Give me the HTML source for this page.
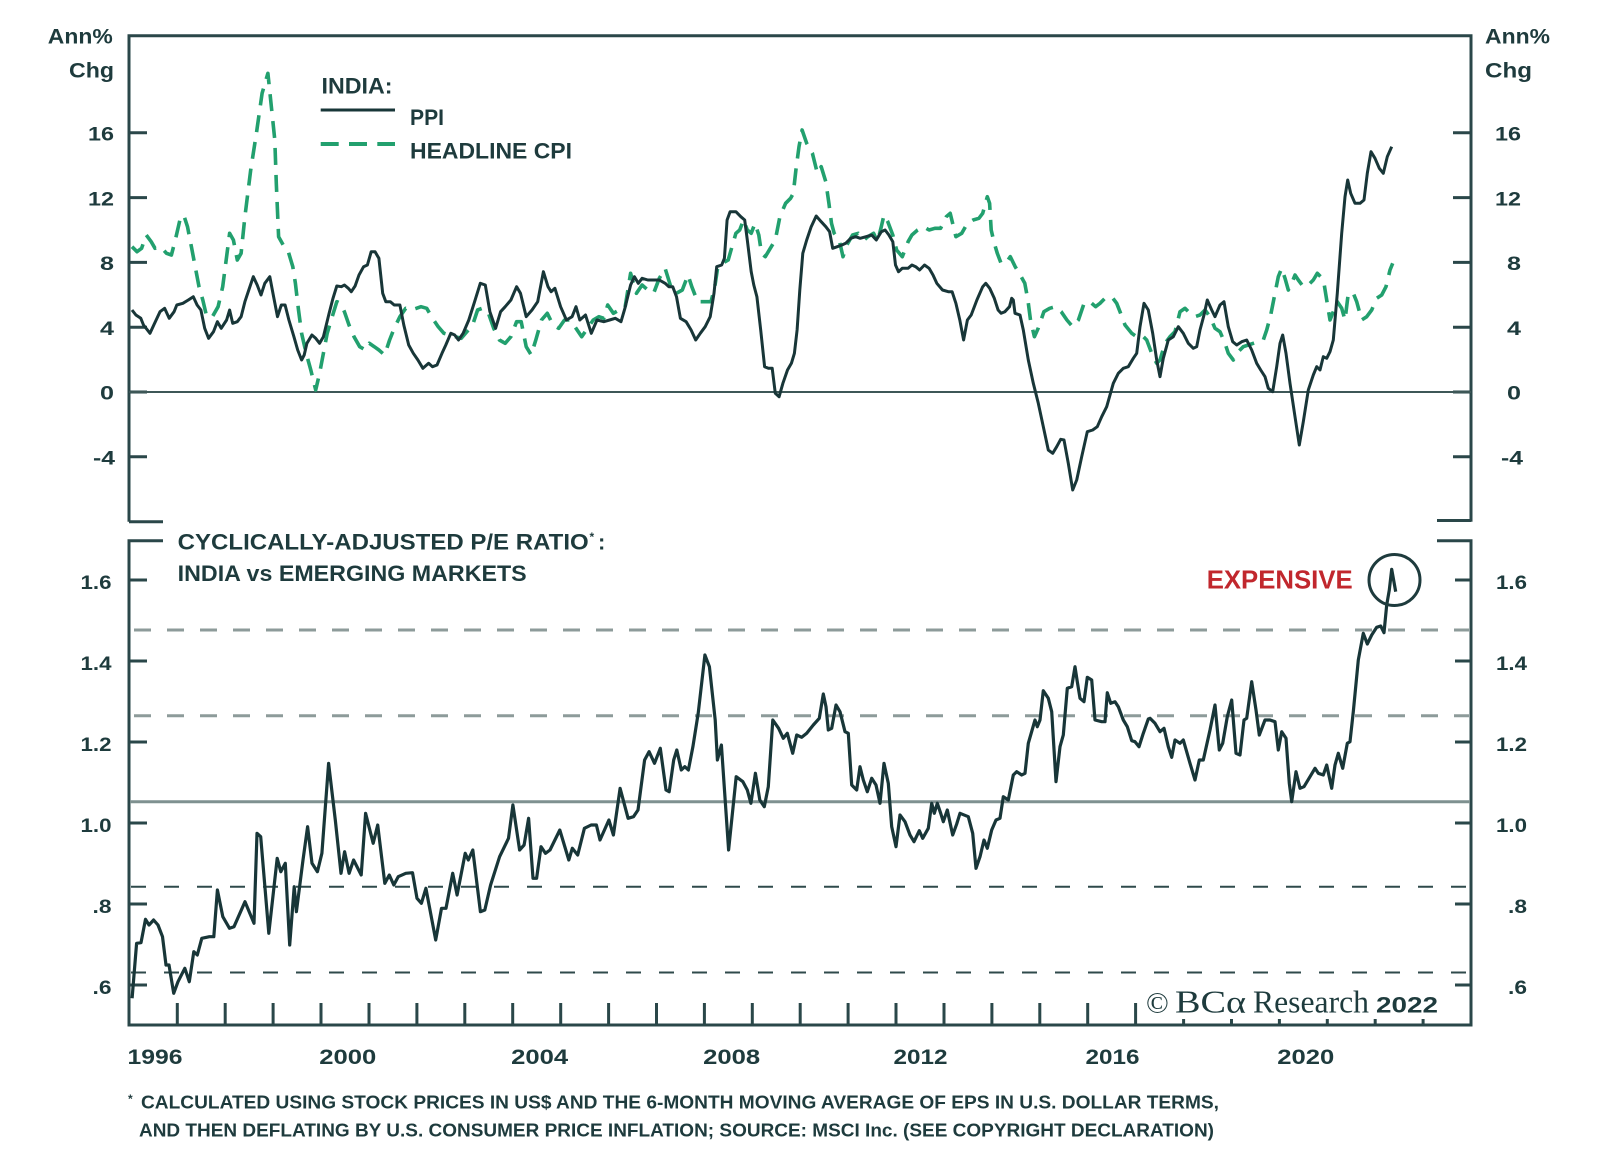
<!DOCTYPE html>
<html>
<head>
<meta charset="utf-8">
<style>
html,body{margin:0;padding:0;background:#fff;}
svg{display:block;}
text{font-family:"Liberation Sans",sans-serif;fill:#1e3b3d;}
.b{font-weight:bold;}
</style>
</head>
<body>
<svg width="1600" height="1174" viewBox="0 0 1600 1174" xmlns="http://www.w3.org/2000/svg">
<rect x="0" y="0" width="1600" height="1174" fill="#fff"/>

<!-- ===== TOP PANEL FRAME ===== -->
<g stroke="#2a4749" stroke-width="3" fill="none">
  <path d="M129,521.7 L129,35.7 L1471,35.7 L1471,521.7"/>
  <path d="M129,521.7 L163,521.7"/>
  <path d="M1437,520.5 L1471,520.5"/>
  <path d="M129,132.8H147M129,197.6H147M129,262.4H147M129,327.2H147M129,392H147M129,456.8H147"/>
  <path d="M1453,132.8H1471M1453,197.6H1471M1453,262.4H1471M1453,327.2H1471M1453,392H1471M1453,456.8H1471"/>
</g>
<line x1="129" y1="392" x2="1471" y2="392" stroke="#3d5757" stroke-width="2"/>

<!-- ===== LOWER PANEL FRAME ===== -->
<g stroke="#2a4749" stroke-width="3" fill="none">
  <path d="M163,540.7 L129,540.7 L129,1025 L1471,1025 L1471,540.7 L1437,540.7"/>
  <path d="M129,580H147M129,661H147M129,742H147M129,823H147M129,904H147M129,985H147"/>
  <path d="M1455,580H1471M1455,661H1471M1455,742H1471M1455,823H1471M1455,904H1471M1455,985H1471"/>
  <path d="M177.3,1003V1025M225.2,1003V1025M273.1,1003V1025M321,1003V1025M369,1003V1025M416.9,1003V1025M464.8,1003V1025M512.7,1003V1025M560.7,1003V1025M608.6,1003V1025M656.5,1003V1025M704.4,1003V1025M752.3,1003V1025M800.2,1003V1025M848.1,1003V1025M896,1003V1025M944,1003V1025M991.9,1003V1025M1039.8,1003V1025M1087.7,1003V1025M1135.6,1003V1025"/>
  <path d="M1183.6,1019V1025M1231.5,1019V1025M1279.4,1019V1025M1327.3,1019V1025M1375.2,1019V1025M1423.1,1019V1025"/>
</g>

<!-- reference lines lower panel -->
<line x1="134" y1="630" x2="1469" y2="630" stroke="#8d9b9a" stroke-width="3" stroke-dasharray="17 16"/>
<line x1="134" y1="715.7" x2="1469" y2="715.7" stroke="#8d9b9a" stroke-width="3" stroke-dasharray="17 16"/>
<line x1="130" y1="801.7" x2="1470" y2="801.7" stroke="#7f9190" stroke-width="3"/>
<line x1="131" y1="886.7" x2="1469" y2="886.7" stroke="#2f4a4b" stroke-width="2" stroke-dasharray="15 18"/>
<line x1="131" y1="972.5" x2="1469" y2="972.5" stroke="#2f4a4b" stroke-width="2" stroke-dasharray="15 18"/>

<!-- ===== SERIES: CPI (dashed green) ===== -->
<polyline fill="none" stroke="#22a06e" stroke-width="3.6" stroke-dasharray="17 10" stroke-linejoin="round" points="132,246.7 137,251.7 141.6,248.3 146.2,235 151.2,241.7 155,248.3 160.7,246.7 166.5,253.3 171.4,255 175.3,240 179.9,220 183.7,215 187.5,226.7 191.4,246.7 195.2,266.7 199,286.7 202.8,300 206.7,316.7 212.4,316.7 218.1,306.7 222.7,286.7 226.6,256.7 229.6,233.3 233.4,240 237.3,260 241.1,253.3 244.9,216.7 250.7,170 256.4,133.3 262.1,93.3 267.9,73.3 271.7,110 274.8,140 276.3,183.3 278.6,236.7 283.2,245 287.8,250 292.8,266.7 295.4,283.3 298.5,310 301.6,333.3 306.2,353.3 310.8,370 315.7,390 319.6,373.3 323.4,353.3 327.2,333.3 332.2,316.7 336.8,301.7 340.6,303.3 344.4,311.7 349,325 354,336.7 359.7,346.7 365.5,350 369.3,343.3 374.3,346.7 378.9,350 384.6,355 389.6,340 394.2,328.3 399.9,316.7 405.7,308.3 411.4,310 416.4,308.3 421,306.7 426.7,308.3 432.5,318.3 438.2,326.7 443.9,333.3 449.7,335 455.4,336.7 461.2,338.3 466.9,331.7 472.6,325 477.6,310 482.2,308.3 487.9,311.7 493.7,328.3 499.4,340 505.2,343.3 510.9,336.7 516.6,321.7 521.2,321.7 526.2,346.7 531.2,355 535.8,340 541.5,320 547.3,313.3 553,325 558.7,328.3 564.5,320 570.2,320 576,328.3 581.7,336.7 587.5,328.3 593.2,320 598.9,316.7 603.8,318.3 607.7,305 613.4,313.3 619.1,310 624.9,308.3 630.6,273.3 636.4,293.3 642.1,285 647.8,290 653.6,293.3 659.3,278.3 665.1,268.3 670.8,286.7 676.5,293.3 682.3,290 688,275 691.8,286.7 697.6,301.7 703.3,301.7 711,301.7 714.8,286.7 717.8,266.7 722.5,263.3 728.2,260 732,246.7 735.9,233.3 739.7,230 743.5,220 747.3,230 751.2,233.3 755,223.3 758.8,235 761.5,253.3 765.3,256.7 770.3,248.3 775.3,240 779.9,216.7 785.6,203.3 790.6,198.3 793.3,193.3 795.9,170 799,146.7 802.1,130 806.7,143.3 812.4,153.3 817.4,173.3 821.2,166.7 825.8,181.7 828.9,203.3 831.5,223.3 834.2,233.3 839.2,240 843,256.7 846.8,245 852.6,235 858.3,233.3 864.1,240 867.9,236.7 873.6,233.3 877.5,241.7 881.3,226.7 884,215 887.8,221.7 892.8,235 896.6,250 902.3,256.7 908.1,241.7 911.9,235 917.6,230 923.4,226.7 929.1,230 934.9,228.3 940.6,228.3 946.3,216.7 950.2,213.3 955.9,236.7 961.7,233.3 967.4,223.3 973.1,220 978.9,218.3 982.7,213.3 987.3,196.7 989.6,203.3 991.2,230 994.3,243.3 997.3,253.3 1001.1,263.3 1005.7,263.3 1010.3,256.7 1015.2,266.7 1020.2,275 1024.8,283.3 1027.9,300 1030.5,320 1034.4,336.7 1038.2,328.3 1043.9,311.7 1049.7,308.3 1055.4,306.7 1061.2,311.7 1066.9,320 1072.6,326.7 1078.4,320 1084.1,303.3 1089.9,301.7 1095.6,306.7 1100,303.3 1105,298.3 1111.7,296.7 1116.7,303.3 1120,311.7 1125,325 1131.7,333.3 1136.7,336.7 1141.7,335 1146.7,340 1151.7,353.3 1156.7,363.3 1160,360 1165,343.3 1170,336.7 1175,331.7 1180,311.7 1185,308.3 1190,313.3 1195,316.7 1200,315 1205,310 1210,316.7 1215,328.3 1220,331.7 1225,343.3 1228.3,353.3 1233.3,360 1238.3,351.7 1243.3,346.7 1248.3,345 1253.3,343.3 1258.3,341.7 1263.3,340 1266.7,330 1270.7,315 1275,293.3 1278.3,276.7 1281.7,268.3 1285,278.3 1288.3,290 1291.7,283.3 1295,275 1298.3,280 1303.3,286.7 1308.3,285 1313.3,280 1317.3,273.3 1320.7,276.7 1324,283.3 1326.7,300 1330,320 1333.3,311.7 1337.3,301.7 1341.7,308.3 1345,320 1348.3,293.3 1353.3,293.3 1356.7,301.7 1361.7,320 1366.7,316.7 1371.7,310 1376.7,298.3 1381.7,295 1386,286.7 1390,270 1392.7,263.3"/>

<!-- ===== SERIES: PPI (solid dark) ===== -->
<polyline fill="none" stroke="#183638" stroke-width="3" stroke-linejoin="round" points="132,310 135.9,315 140.8,318.3 143.5,325 150,333.3 153.8,325 160,311.7 164.6,308.3 169.2,318.3 174.1,311.7 176.8,305 182.9,303.3 188.3,300 193.3,296.7 197.1,305 200.9,310 204.7,328.3 208.6,338.3 213.5,331.7 217.4,321.7 221.2,328.3 226.6,320 229.6,310 232.7,323.3 237.3,321.7 241.1,316.7 244.9,301.7 248.8,290 253.3,276.7 257.2,285 261,295 264.8,283.3 269.8,276.7 273.6,296.7 277.5,316.7 281.3,305 285.1,305 288.9,320 293.9,336.7 297.7,350 301.6,360 304.2,355 306.9,343.3 311.9,335 315.7,338.3 319.6,343.3 323.4,336.7 329.1,313.3 333,298.3 336.8,286 341.4,286.7 344.4,285 348.3,288.3 351.3,291.7 355.1,286 359,275 363.6,266.7 367.4,265 371.2,251.7 375,251.7 378.9,258.3 382.7,293.3 385.8,301.7 390.4,301.7 394.2,305 399.9,305 403.8,325 408.7,345 413.3,353.3 417.9,360 422.9,368.3 428.6,363.3 432.5,366.7 437,365 442,353.3 445.8,345 450.8,333.3 454.7,335 458.5,340 463.1,333.3 468.8,320 474.6,301.7 480.3,283.3 485.3,285 489.9,311.7 495.6,328.3 500.6,311.7 505.2,306.7 510.9,300 516.6,286.7 520.5,293.3 526.2,316.7 532,310 537.7,301.7 543.4,271.7 548,286.7 551.1,291.7 554.9,288.3 560.6,306.7 566.4,320 572.1,316.7 576,306.7 579.8,320 585.5,315 591.3,333.3 597,320 603.8,321.7 609.6,320 615.3,318.3 621,321.7 624.9,308.3 630.6,285 634.4,276.7 638.3,283.3 642.1,278.3 647.8,280 653.6,280 659.3,280 665.1,283.3 668.9,286.7 672.7,286.7 676.5,296.7 680.4,318.3 686.1,321.7 691.1,330 695.7,340 700.3,333.3 705.2,326.7 710.2,316.7 714,293.3 716.7,266.7 721.7,265 724.4,258.3 727.1,220 730.1,211.7 735.9,211.7 740.8,216.7 744.7,220 747.3,240 751.2,271.7 753.8,285 756.9,296.7 760.7,330 764.6,366.7 768.4,368.3 772.2,368.3 775.3,393.3 779.1,396.7 782.9,383.3 787.5,370 791.4,363.3 794.4,353.3 797.1,330 799.8,290 802.8,253.3 806.7,240 811.2,226.7 816.2,216 821.2,221.7 825.8,226.7 829.6,231.7 832.7,248.3 837.3,246.7 841.9,245 845.7,243.3 850.7,238.3 855.6,236.7 860.2,238.3 866,236.7 871.7,235 876.3,240 881.3,231.7 885.1,230 888.9,235 892.8,241.7 895.5,265 898.5,271.7 902.3,268.3 908.1,268.3 911.9,265 915.7,266.7 919.6,270 924.5,265 929.1,268.3 933,275 936.8,283.3 942.5,290 948.3,291.7 952.1,291.7 955.9,303.3 959.8,320 963.6,340 967.4,320 971.2,315 976.9,300 982.7,286.7 985.8,283.3 989.7,288.3 994.3,298.3 998.1,310 1001.1,313.3 1004.9,311.7 1009.5,306.7 1011.7,298.3 1013.3,300 1015,313.3 1020,315 1023.3,330 1028.3,360 1033.3,383.3 1038.3,403.3 1043.3,426.7 1048.3,450 1052.7,453.3 1056.7,446.7 1060.7,439.3 1064,440 1068.3,463.3 1072.7,490 1076.7,480 1081.7,456.7 1087.3,431.7 1092.7,430 1097.3,426.7 1101.7,416.7 1106.7,406.7 1113.3,383.3 1118.3,373.3 1123.3,368.3 1128.3,366.7 1133.3,358.3 1136.7,353.3 1140,326.7 1144,303.3 1148.3,310 1152.7,333.3 1156.7,360 1160,376.7 1163.3,358.3 1168.3,340 1173.3,336.7 1178.3,326.7 1183.3,333.3 1188.3,343.3 1193.3,348.3 1196.7,346.7 1200,330 1204,315 1207.3,300 1211.7,310 1215,316.7 1220,305 1224,301.7 1228.3,326.7 1232.7,341.7 1236.7,345 1241.7,341.7 1246.7,340 1251.7,350 1256.7,363.3 1260.7,370 1265,376.7 1268.3,388.3 1272.7,391.7 1276.7,366.7 1280,343.3 1282.7,335 1286,353.3 1290,383.3 1295,416.7 1299.3,445 1303.3,421.7 1308.3,390 1313.3,375 1316.7,366.7 1320,370 1323.3,356.7 1326.7,358.3 1330,351.7 1333.3,340 1337.3,293.3 1341.7,233.3 1345,196.7 1347.7,180 1350.7,193.3 1355,203.3 1360,203.3 1364,200 1367.3,173.3 1371,151.7 1375,158.3 1379.3,168.3 1383.3,173.3 1387.3,156.7 1391.7,146.7"/>

<!-- ===== SERIES: CAPE ratio ===== -->
<polyline fill="none" stroke="#183638" stroke-width="3.2" stroke-linejoin="round" points="132.1,998.3 136.6,943.3 141,942.7 145.5,919.3 149,925 153.6,920 158,925 162.5,936.7 166,965 169,965 173.7,993.3 178,981.7 184.8,968.3 189.3,981.7 193.8,951.7 197.3,955 201.8,938.3 209.4,936.7 213.8,936.7 217.4,890 222.8,916.7 229.5,928.3 234,926.7 245,901.7 254,923.3 257,833.3 260.7,836.7 268.8,933.3 277.2,858.3 280.8,871.7 285.3,863.3 289.7,945 294.2,886.7 296.4,911.7 303,860 307.6,826.7 312,863.3 317.4,871.7 321.9,853.3 328.6,763.3 335.3,820 341,873.3 344.6,851.7 349.1,873.3 353.6,860 361.2,875 365.6,813.3 373.2,843.3 377.7,825 384.8,883.3 389.3,875 393.8,885 398.2,876.7 405.8,873.3 412.5,872.7 417,898.3 421.4,903.3 425.9,888.3 435.7,940 441.5,908.3 446,908.3 452.7,873.3 457.1,895 465.2,853.3 468.3,860 472.8,850 480.4,911.7 484.8,910 490.6,885 499.6,856.7 508.5,838.3 512.9,805 519.6,850 524.1,845 528.6,818.3 533,878.3 536.6,878.3 541,846.7 545.5,853.3 550,850 559.8,830 568.8,860 572.3,848.3 577.7,855 584.4,828.3 591.1,825 596.4,825 600,840 608.9,820 613.4,835 620.1,788.3 628.1,818.3 633.5,816.7 638,810 644.6,760 649.1,751.7 654.5,763.3 660.3,748.3 666,790 669.2,791.7 673.7,760 676.8,750 681.3,770 684.8,766.7 688.4,770 692.9,746.7 698.2,713.3 704.9,655 709.4,666.7 715.2,720 717.4,760 721.4,745 728.6,850 736.2,776.7 742.9,781.7 747.3,790 750.9,803.3 755.4,773.3 759.8,800 764.3,806.7 768.3,786.7 772.8,720 778.6,728.3 783.3,738.3 787.3,733.3 792.7,753.3 796.7,735 801.7,737.3 806.7,733.3 813.3,725 819.3,718.3 823.3,694 826,706.7 828.3,730 831.7,728.3 836,705 840,711.7 845,731.7 848.3,733.3 851.7,785 856.7,790 860,766.7 863.3,780 867.3,791.7 871.7,778.3 876,785 880,803.3 884,763.3 888.3,783.3 891.7,826.7 896,846.7 900,815 905,821.7 910,835 914,841.7 919.3,830.7 922.7,838.3 928.3,828.3 931.7,803.3 934.3,813.3 937.3,803.3 940.7,813.3 943.3,821.7 947.3,810 952.7,835 956.7,824 960,813.3 968.3,816.7 972.7,833.3 976,868.3 980,856.7 984,840 987.3,848.3 991.7,830 996,820 1000,818.3 1003.3,796.7 1008.3,800 1013.3,775 1016.7,771.7 1021.7,775 1025,773.3 1028.3,743.3 1035,720 1037.3,726.7 1040,720 1043.3,690.7 1048.3,698.3 1051.7,711.7 1056,781.7 1060,746.7 1063.3,735 1067.3,688.3 1071.7,686.7 1075,666.7 1077.3,681.7 1080,698.3 1084,701.7 1087.3,677.3 1091.7,680 1095,720 1101.7,721.7 1105,721.7 1107.3,692.7 1110.7,703.3 1115,701.7 1118.3,706.7 1123.3,720 1127.3,726.7 1131.7,740.7 1135,741.7 1139,746.7 1143.3,733.3 1148.3,719 1150,718.3 1155,723.3 1160,731.7 1164,728.3 1168.3,746.7 1171.7,757.3 1175,740 1180,743.3 1183.3,740 1190,763.3 1195,780 1199.3,760 1203.3,760 1210,730 1215,705 1219.3,750 1222.7,743.3 1227.3,716.7 1231.7,700 1236,753.3 1240,755 1244,720 1246.7,718.3 1251.7,681.7 1256,710 1259.3,735 1265,720 1270,720 1275,721.7 1278.3,750 1281.7,731.7 1286,738.3 1289.3,783.3 1291.7,801.7 1296,771.7 1300,788.3 1304,786.7 1310,776.7 1315,768.3 1318.3,773.3 1323.3,775 1326.7,765 1331.7,788.3 1335,765 1338.3,753.3 1342.7,768.3 1347.3,743.3 1350,741.7 1353.3,711.7 1358.3,660 1363.3,633.3 1367.3,644 1371.7,635 1376.7,627.3 1380.7,626 1384,632.7 1386.7,605 1389.3,590 1391.7,569.3 1395.7,591.7"/>

<!-- circle annotation -->
<circle cx="1394.5" cy="580" r="25.5" fill="none" stroke="#1e3b3d" stroke-width="3"/>
<text x="1206.7" y="588.3" font-size="26" class="b" style="fill:#c1272d" textLength="146" lengthAdjust="spacingAndGlyphs">EXPENSIVE</text>

<!-- ===== AXIS TITLES ===== -->
<text x="47.8" y="43.3" font-size="21" class="b" textLength="65" lengthAdjust="spacingAndGlyphs">Ann%</text>
<text x="69" y="77.3" font-size="21" class="b" textLength="45" lengthAdjust="spacingAndGlyphs">Chg</text>
<text x="1485" y="43.3" font-size="21" class="b" textLength="65" lengthAdjust="spacingAndGlyphs">Ann%</text>
<text x="1485" y="77.3" font-size="21" class="b" textLength="47" lengthAdjust="spacingAndGlyphs">Chg</text>

<!-- top panel tick labels left -->
<g font-size="19" class="b" text-anchor="end">
  <text x="114" y="140.5" textLength="26" lengthAdjust="spacingAndGlyphs">16</text>
  <text x="114" y="205.3" textLength="26" lengthAdjust="spacingAndGlyphs">12</text>
  <text x="114" y="270.1" textLength="14" lengthAdjust="spacingAndGlyphs">8</text>
  <text x="114" y="334.9" textLength="14" lengthAdjust="spacingAndGlyphs">4</text>
  <text x="114" y="399.7" textLength="14" lengthAdjust="spacingAndGlyphs">0</text>
  <text x="115" y="464.5" textLength="22" lengthAdjust="spacingAndGlyphs">-4</text>
</g>
<g font-size="19" class="b" text-anchor="end">
  <text x="1521" y="140.5" textLength="26" lengthAdjust="spacingAndGlyphs">16</text>
  <text x="1521" y="205.3" textLength="26" lengthAdjust="spacingAndGlyphs">12</text>
  <text x="1521" y="270.1" textLength="14" lengthAdjust="spacingAndGlyphs">8</text>
  <text x="1521" y="334.9" textLength="14" lengthAdjust="spacingAndGlyphs">4</text>
  <text x="1521" y="399.7" textLength="14" lengthAdjust="spacingAndGlyphs">0</text>
  <text x="1523" y="464.5" textLength="22" lengthAdjust="spacingAndGlyphs">-4</text>
</g>

<!-- lower panel tick labels -->
<g font-size="19" class="b" text-anchor="end">
  <text x="111.5" y="589" textLength="31" lengthAdjust="spacingAndGlyphs">1.6</text>
  <text x="111.5" y="670" textLength="31" lengthAdjust="spacingAndGlyphs">1.4</text>
  <text x="111.5" y="751" textLength="31" lengthAdjust="spacingAndGlyphs">1.2</text>
  <text x="111.5" y="832" textLength="31" lengthAdjust="spacingAndGlyphs">1.0</text>
  <text x="111.5" y="913" textLength="19" lengthAdjust="spacingAndGlyphs">.8</text>
  <text x="111.5" y="994" textLength="19" lengthAdjust="spacingAndGlyphs">.6</text>
</g>
<g font-size="19" class="b" text-anchor="end">
  <text x="1527" y="589" textLength="31" lengthAdjust="spacingAndGlyphs">1.6</text>
  <text x="1527" y="670" textLength="31" lengthAdjust="spacingAndGlyphs">1.4</text>
  <text x="1527" y="751" textLength="31" lengthAdjust="spacingAndGlyphs">1.2</text>
  <text x="1527" y="832" textLength="31" lengthAdjust="spacingAndGlyphs">1.0</text>
  <text x="1527" y="913" textLength="19" lengthAdjust="spacingAndGlyphs">.8</text>
  <text x="1527" y="994" textLength="19" lengthAdjust="spacingAndGlyphs">.6</text>
</g>

<!-- year labels -->
<g font-size="21" class="b" text-anchor="middle">
  <text x="155" y="1064" textLength="55" lengthAdjust="spacingAndGlyphs">1996</text>
  <text x="347.8" y="1064" textLength="57" lengthAdjust="spacingAndGlyphs">2000</text>
  <text x="539.7" y="1064" textLength="57" lengthAdjust="spacingAndGlyphs">2004</text>
  <text x="731.7" y="1064" textLength="57" lengthAdjust="spacingAndGlyphs">2008</text>
  <text x="920.5" y="1064" textLength="54" lengthAdjust="spacingAndGlyphs">2012</text>
  <text x="1112.5" y="1064" textLength="54" lengthAdjust="spacingAndGlyphs">2016</text>
  <text x="1305.8" y="1064" textLength="57" lengthAdjust="spacingAndGlyphs">2020</text>
</g>

<!-- ===== LEGEND ===== -->
<text x="321.5" y="93.3" font-size="22" class="b" textLength="71" lengthAdjust="spacingAndGlyphs">INDIA:</text>
<line x1="320.7" y1="110" x2="395" y2="110" stroke="#183638" stroke-width="3"/>
<text x="410" y="125" font-size="22" class="b" textLength="34" lengthAdjust="spacingAndGlyphs">PPI</text>
<line x1="320.7" y1="144" x2="395" y2="144" stroke="#22a06e" stroke-width="4" stroke-dasharray="18 10.3"/>
<text x="410" y="158.3" font-size="22" class="b" textLength="162" lengthAdjust="spacingAndGlyphs">HEADLINE CPI</text>

<!-- lower panel title -->
<text x="177.7" y="549.3" font-size="22" class="b" textLength="411" lengthAdjust="spacingAndGlyphs">CYCLICALLY-ADJUSTED P/E RATIO</text>
<text x="589.5" y="541" font-size="12" class="b">*</text>
<text x="598" y="549.3" font-size="22" class="b">:</text>
<text x="177.7" y="581" font-size="22" class="b" textLength="349" lengthAdjust="spacingAndGlyphs">INDIA vs EMERGING MARKETS</text>

<!-- copyright -->
<text x="1146" y="1012.7" font-size="30" style="font-family:'Liberation Serif',serif">©</text>
<text x="1175" y="1012.7" font-size="32" style="font-family:'Liberation Serif',serif" textLength="71" lengthAdjust="spacingAndGlyphs">BCα</text>
<text x="1253" y="1012.7" font-size="32" style="font-family:'Liberation Serif',serif" textLength="116" lengthAdjust="spacingAndGlyphs">Research</text>
<text x="1376" y="1012.7" font-size="22" class="b" textLength="62" lengthAdjust="spacingAndGlyphs">2022</text>

<!-- footnote -->
<text x="128" y="1103" font-size="12" class="b">*</text>
<text x="141" y="1108.3" font-size="18.5" class="b" textLength="1078" lengthAdjust="spacingAndGlyphs">CALCULATED USING STOCK PRICES IN US$ AND THE 6-MONTH MOVING AVERAGE OF EPS IN U.S. DOLLAR TERMS,</text>
<text x="139" y="1136.7" font-size="18.5" class="b" textLength="1075" lengthAdjust="spacingAndGlyphs">AND THEN DEFLATING BY U.S. CONSUMER PRICE INFLATION; SOURCE: MSCI Inc. (SEE COPYRIGHT DECLARATION)</text>
</svg>
</body>
</html>
